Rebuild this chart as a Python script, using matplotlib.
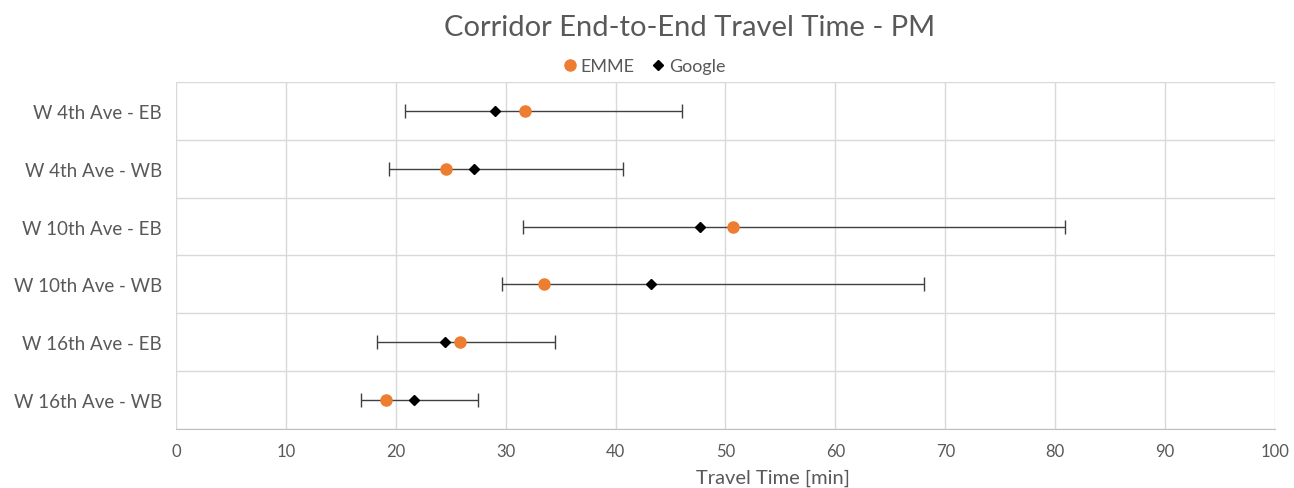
import numpy as np
import matplotlib.pyplot as plt

# corridor data (minutes)
corridors = ["W 4th Ave - EB", "W 4th Ave - WB", "W 10th Ave - EB",
             "W 10th Ave - WB", "W 16th Ave - EB", "W 16th Ave - WB"]
emme = [31.8, 24.6, 50.7, 33.5, 25.8, 19.1]
google = [29.0, 27.1, 47.7, 43.2, 24.5, 21.7]
google_min = [20.8, 19.4, 31.6, 29.7, 18.3, 16.8]
google_max = [46.0, 40.7, 80.9, 68.1, 34.5, 27.5]
xticks = [0, 10, 20, 30, 40, 50, 60, 70, 80, 90, 100]

plt.rcParams["font.family"] = ["Lato", "DejaVu Sans"]
txt = "#595959"

fig = plt.figure(figsize=(12.94, 4.89), dpi=100)
ax = fig.add_axes([0.136, 0.1207, 0.8493, 0.7096])

y = np.arange(len(corridors))
g = np.array(google)
lo = g - np.array(google_min)
hi = np.array(google_max) - g

# range bars
ax.errorbar(g, y, xerr=[lo, hi], fmt="none", ecolor="#404040",
            elinewidth=1, capsize=5, capthick=1, zorder=2)
ax.plot(google, y, "D", color="black", markersize=5.5, linestyle="none",
        label="Google", zorder=3)
ax.plot(emme, y, "o", color="#ED7D31", markersize=8, linestyle="none",
        label="EMME", zorder=4)

ax.set_xlim(0, 100)
ax.set_ylim(len(corridors) - 0.5, -0.5)
ax.set_xticks(xticks)
ax.set_yticks(y)
ax.set_yticklabels(corridors)
ax.set_yticks(np.arange(-0.5, len(corridors), 1), minor=True)

ax.grid(axis="x", color="#d9d9d9", linewidth=1)
ax.grid(axis="y", which="minor", color="#d9d9d9", linewidth=1)
ax.set_axisbelow(True)
for s in ["top", "right", "left"]:
    ax.spines[s].set_visible(False)
ax.spines["bottom"].set_color("#bfbfbf")
ax.tick_params(axis="both", which="both", length=0, colors=txt)
ax.tick_params(axis="x", pad=10, labelsize=12)
ax.tick_params(axis="y", pad=10, labelsize=13.5)

ax.set_xlabel("Travel Time [min]", color=txt, fontsize=14.5, va="center")
ax.xaxis.set_label_coords(0.543, -0.138)

fig.text(0.533, 0.942, "Corridor End-to-End Travel Time - PM", ha="center",
         va="center", fontsize=21, color=txt)

handles, labels = ax.get_legend_handles_labels()
fig.legend(handles[::-1], labels[::-1], loc="center", bbox_to_anchor=(0.497, 0.862),
           ncol=2, frameon=False, fontsize=13, labelcolor=txt,
           handletextpad=0.1, columnspacing=0.8, handlelength=1)

fig.savefig("out.png", dpi=100)
